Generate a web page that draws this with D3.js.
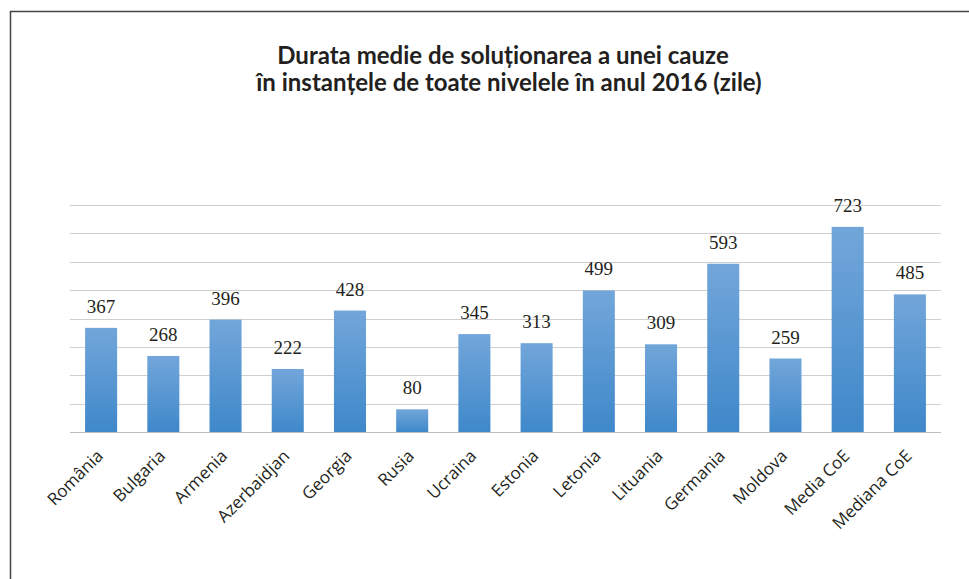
<!DOCTYPE html>
<html>
<head>
<meta charset="utf-8">
<script src="https://cdn.jsdelivr.net/npm/d3@7"></script>
<style>
  html, body { margin: 0; padding: 0; background: #fff; }
</style>
</head>
<body>
<div id="chart"></div>
<script>
// Chart data
const categories = ['România', 'Bulgaria', 'Armenia', 'Azerbaidjan', 'Georgia', 'Rusia', 'Ucraina',
    'Estonia', 'Letonia', 'Lituania', 'Germania', 'Moldova', 'Media CoE', 'Mediana CoE'];
const values = [367, 268, 396, 222, 428, 80, 345, 313, 499, 309, 593, 259, 723, 485];
const gridTicks = [0, 100, 200, 300, 400, 500, 600, 700, 800];
const titleLines = ['Durata medie de soluționarea a unei cauze',
    'în instanțele de toate nivelele în anul 2016 (zile)'];

const width = 969, height = 579;
const svg = d3.select('#chart')
    .append('svg')
    .attr('width', width)
    .attr('height', height);

// Gradient for bars
const grad = svg.append('defs').append('linearGradient')
    .attr('id', 'barGrad')
    .attr('x1', 0).attr('y1', 0).attr('x2', 0).attr('y2', 1);
grad.append('stop').attr('offset', '0%').attr('stop-color', '#72a6da');
grad.append('stop').attr('offset', '100%').attr('stop-color', '#3f88ca');

// Frame (top and left edges)
svg.append('path')
    .attr('d', 'M10.5,' + height + 'V11.5H' + width)
    .attr('fill', 'none')
    .attr('stroke', '#444')
    .attr('stroke-width', 1.5);

// Title
svg.append('text')
    .attr('text-anchor', 'middle')
    .attr('fill', '#231f20')
    .style('font-family', 'Lato, sans-serif')
    .style('font-weight', 'bold')
    .style('font-size', '24px')
    .selectAll('tspan')
    .data(titleLines)
    .join('tspan')
    .attr('x', (d, i) => i === 0 ? 503 : 509)
    .attr('y', (d, i) => 64 + i * 27)
    .text(d => d);

const x = d3.scaleBand()
    .domain(categories)
    .range([70, 941])
    .paddingInner(0.485)
    .paddingOuter(0.2425);

const y = d3.scaleLinear()
    .domain([0, 800])
    .range([432, 205]);

// Gridlines
svg.append('g')
    .selectAll('line')
    .data(gridTicks)
    .join('line')
    .attr('x1', 70)
    .attr('x2', 941)
    .attr('y1', d => Math.round(y(d)) + 0.5)
    .attr('y2', d => Math.round(y(d)) + 0.5)
    .attr('stroke', d => d === 0 ? '#bdbdbd' : '#cfcfcf')
    .attr('stroke-width', 1.2);

// Bars
svg.append('g')
    .selectAll('rect')
    .data(values)
    .join('rect')
    .attr('x', (d, i) => x(categories[i]))
    .attr('width', x.bandwidth())
    .attr('y', d => y(d))
    .attr('height', d => y(0) - y(d))
    .attr('fill', 'url(#barGrad)');

// Value labels
svg.append('g')
    .selectAll('text')
    .data(values)
    .join('text')
    .attr('x', (d, i) => x(categories[i]) + x.bandwidth() / 2)
    .attr('y', d => y(d) - 15)
    .attr('text-anchor', 'middle')
    .attr('fill', '#231f20')
    .style('font-family', '"Liberation Serif", serif')
    .style('font-size', '19px')
    .text(d => d);

// Category labels
svg.append('g')
    .selectAll('text')
    .data(categories)
    .join('text')
    .attr('transform', d => `translate(${x(d) + x.bandwidth() / 2 + 3},${457}) rotate(-45)`)
    .attr('text-anchor', 'end')
    .attr('fill', '#231f20')
    .style('font-family', '"Open Sans", sans-serif')
    .style('font-size', '17px')
    .text(d => d);
</script>
</body>
</html>
